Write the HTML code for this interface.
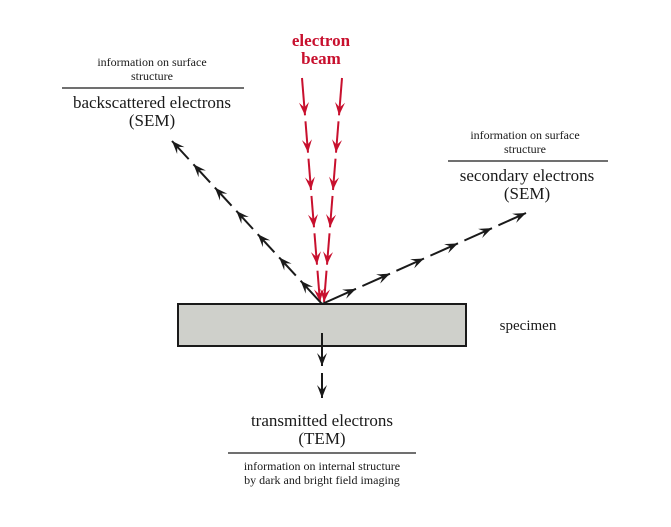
<!DOCTYPE html>
<html><head><style>
body{margin:0;background:#fff;}
text{font-family:"Liberation Serif",serif;fill:#1a1a1a;}
</style></head><body>
<svg id="s" width="671" height="522" viewBox="0 0 671 522" xmlns="http://www.w3.org/2000/svg">
<rect x="178" y="304" width="288" height="42" fill="#cfd0cb" stroke="#1a1a1a" stroke-width="2"/>
<g font-size="12" text-anchor="middle">
<text x="152" y="66">information on surface</text>
<text x="152" y="80">structure</text>
<text x="525" y="139">information on surface</text>
<text x="525" y="153">structure</text>
<text x="322" y="470">information on internal structure</text>
<text x="322" y="484">by dark and bright field imaging</text>
</g>
<g stroke="#1a1a1a" stroke-width="1.2">
<line x1="62" y1="88" x2="244" y2="88"/>
<line x1="448" y1="161" x2="608" y2="161"/>
<line x1="228" y1="453" x2="416" y2="453"/>
</g>
<g font-size="17" text-anchor="middle">
<text x="152" y="108">backscattered electrons</text>
<text x="152" y="126">(SEM)</text>
<text x="527" y="181">secondary electrons</text>
<text x="527" y="199">(SEM)</text>
<text x="322" y="426">transmitted electrons</text>
<text x="322" y="444">(TEM)</text>
<text x="528" y="330" font-size="15">specimen</text>
</g>
<g font-size="17" font-weight="bold" text-anchor="middle">
<text x="321" y="46" style="fill:#c8102e">electron</text>
<text x="321" y="64" style="fill:#c8102e">beam</text>
</g>
<g id="arr"></g>
</svg>
<script>
var g=document.getElementById('arr');var ns='http://www.w3.org/2000/svg';
function seg(x1,y1,x2,y2,c){var l=document.createElementNS(ns,'line');l.setAttribute('x1',x1);l.setAttribute('y1',y1);l.setAttribute('x2',x2);l.setAttribute('y2',y2);l.setAttribute('stroke',c);l.setAttribute('stroke-width','2');g.appendChild(l);
var dx=x2-x1,dy=y2-y1,L=Math.hypot(dx,dy),ux=dx/L,uy=dy/L,px=-uy,py=ux,h=13,w=5;
var p=document.createElementNS(ns,'polygon');
p.setAttribute('points',x2+','+y2+' '+(x2-ux*h+px*w)+','+(y2-uy*h+py*w)+' '+(x2-ux*h*0.6)+','+(y2-uy*h*0.6)+' '+(x2-ux*h-px*w)+','+(y2-uy*h-py*w));
p.setAttribute('fill',c);g.appendChild(p);}
function dashed(x1,y1,x2,y2,n,gap,c){for(var i=0;i<n;i++){var a=i/n,b=(i+1)/n;var L=Math.hypot(x2-x1,y2-y1);var gf=gap/L;
seg(x1+(x2-x1)*(a+(i?gf:0)),y1+(y2-y1)*(a+(i?gf:0)),x1+(x2-x1)*b,y1+(y2-y1)*b,c);}}
dashed(302,78,320,302,6,6,'#c8102e');
dashed(342,78,324,302,6,6,'#c8102e');
dashed(322,304,172,141,7,7,'#1a1a1a');
dashed(322,304,526,213,6,7,'#1a1a1a');
seg(322,333,322,366,'#1a1a1a');seg(322,373,322,398,'#1a1a1a');
</script>
</body></html>
